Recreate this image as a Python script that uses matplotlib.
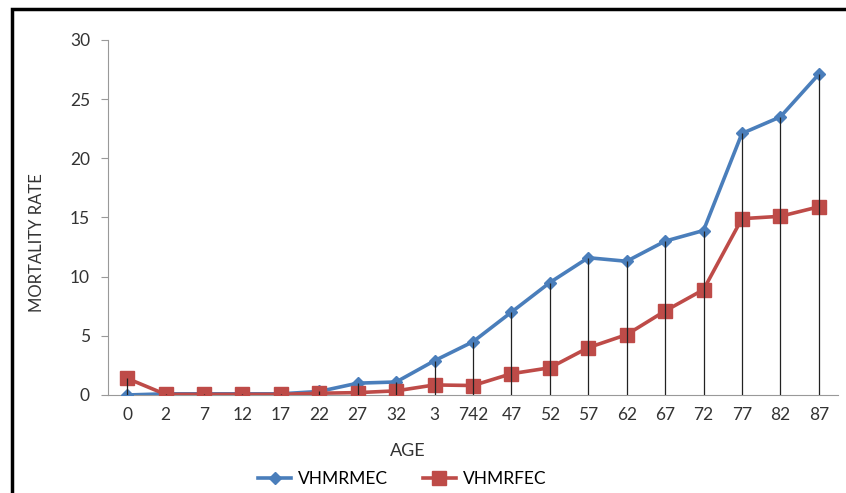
import matplotlib.pyplot as plt
from matplotlib.patches import Rectangle
import numpy as np

ages = ["0", "2", "7", "12", "17", "22", "27", "32", "3", "742", "47", "52",
        "57", "62", "67", "72", "77", "82", "87"]
vhmrmec = [0.0, 0.1, 0.1, 0.1, 0.1, 0.3, 1.0, 1.1, 2.9, 4.5, 7.0, 9.5,
           11.6, 11.3, 13.0, 13.9, 22.1, 23.5, 27.1]
vhmrfec = [1.4, 0.05, 0.05, 0.05, 0.05, 0.15, 0.2, 0.35, 0.85, 0.8, 1.8, 2.3,
           4.0, 5.1, 7.1, 8.9, 14.9, 15.1, 15.9]

plt.rcParams['font.family'] = ['Lato', 'DejaVu Sans']

fig = plt.figure(figsize=(8.46, 4.93), dpi=100)
ax = fig.add_axes([0.1277, 0.1988, 0.8628, 0.7201])

x = np.arange(len(ages))
blue = '#4a7ebb'
red = '#be4b48'
txt = '#333333'

# drop lines from the highest point down to the axis
tops = np.maximum(vhmrmec, vhmrfec)
ax.vlines(x, 0, tops, color='#222222', lw=0.9, zorder=4)

ax.plot(x, vhmrmec, '-', color=blue, lw=2.6, marker='D', ms=6.5,
        label='VHMRMEC', zorder=3)
ax.plot(x, vhmrfec, '-', color=red, lw=2.6, marker='s', ms=10,
        label='VHMRFEC', zorder=3)

ax.set_xlim(-0.5, len(ages) - 0.5)
ax.set_ylim(0, 30)
ax.set_yticks(range(0, 31, 5))
ax.set_xticks(x)
ax.set_xticklabels(ages)
ax.tick_params(axis='x', length=0, pad=9, labelsize=12.5, colors=txt)
ax.tick_params(axis='y', direction='out', length=5, color='#999999',
               labelsize=12.5, labelcolor=txt, pad=8)

for s in ['top', 'right']:
    ax.spines[s].set_visible(False)
ax.spines['left'].set_color('#999999')
ax.spines['bottom'].set_color('#999999')

ax.set_ylabel('MORTALITY RATE', fontsize=12, color=txt)
ax.yaxis.set_label_coords(-0.087, 0.43)
ax.set_xlabel('AGE', fontsize=13, color=txt)
ax.xaxis.set_label_coords(0.411, -0.135)

ax.legend(loc='center', bbox_to_anchor=(0.403, -0.237), ncol=2,
          frameon=False, fontsize=12.5, handlelength=1.9, handletextpad=0.4,
          columnspacing=2.0)

# outer frame (left and top edges visible)
fig.patches.append(Rectangle((0.014, -0.05), 1.2, 1.031, transform=fig.transFigure,
                             fill=False, edgecolor='black', lw=2.5))

fig.savefig('out.png', dpi=100)
